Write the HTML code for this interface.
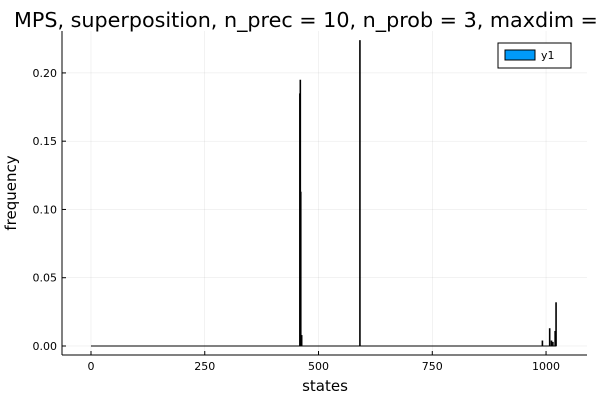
<!DOCTYPE html>
<html><head><meta charset="utf-8"><style>
html,body{margin:0;padding:0;background:#fff;width:600px;height:400px;overflow:hidden}
svg{display:block;font-family:"DejaVu Sans","Liberation Sans",sans-serif}
</style></head><body>
<svg id="chart" width="600" height="400">
<text x="14" y="27" font-size="20.7" fill="#000">MPS, superposition, n_prec = 10, n_prob = 3, maxdim = 10</text>
<g id="grid"></g>
<g id="bars"></g>
<g id="axes"></g>
<text x="325" y="391" font-size="15" text-anchor="middle">states</text>
<text transform="translate(16,193) rotate(-90)" font-size="15" text-anchor="middle">frequency</text>
<g>
<rect x="498" y="43" width="73" height="25" fill="#fff" stroke="#000" stroke-width="1"/>
<rect x="505" y="50" width="30" height="10" fill="#009af9" stroke="#000" stroke-width="1"/>
<text x="541" y="59" font-size="11">y1</text>
</g>
</svg>
<script>
const states = [459, 460, 461, 463, 591, 992, 1008, 1012, 1015, 1020, 1022];
const freqs = [0.185, 0.195, 0.113, 0.008, 0.224, 0.004, 0.013, 0.004, 0.003, 0.011, 0.032];
const xTicks = [0, 250, 500, 750, 1000];
const yTicks = [0, 0.05, 0.10, 0.15, 0.20];
const yTickLabels = ["0.00", "0.05", "0.10", "0.15", "0.20"];
const xMin = -63.7, xMax = 1090, yMin = -0.0066, yMax = 0.2307;
const L = 62, R = 587, T = 31, B = 355;
const sx = v => L + (v - xMin) / (xMax - xMin) * (R - L);
const sy = v => B - (v - yMin) / (yMax - yMin) * (B - T);
const NS = "http://www.w3.org/2000/svg";
function mk(tag, attrs, parent) {
  const e = document.createElementNS(NS, tag);
  for (const k in attrs) e.setAttribute(k, attrs[k]);
  parent.appendChild(e);
  return e;
}
const grid = document.getElementById("grid"), bars = document.getElementById("bars"), axes = document.getElementById("axes");
xTicks.forEach(t => {
  const g = mk("line", {x1: sx(t), x2: sx(t), y1: T, y2: B, stroke: "#000", "stroke-opacity": 0.1, "stroke-width": 0.5}, grid);
  
  
  const tk = mk("line", {x1: sx(t), x2: sx(t), y1: B, y2: B - 4, stroke: "#000", "stroke-width": 1}, axes);
  
  
  const lb = mk("text", {x: sx(t), y: B + 15, "font-size": 11, "text-anchor": "middle"}, axes);
  lb.textContent = t;
  
  
});
yTicks.forEach((t, i) => {
  const g = mk("line", {x1: L, x2: R, y1: sy(t), y2: sy(t), stroke: "#000", "stroke-opacity": 0.1, "stroke-width": 0.5}, grid);
  
  
  const tk = mk("line", {x1: L, x2: L + 4, y1: sy(t), y2: sy(t), stroke: "#000", "stroke-width": 1}, axes);
  
  
  const lb = mk("text", {x: L - 5, y: sy(t) + 4, "font-size": 11, "text-anchor": "end"}, axes);
  lb.textContent = yTickLabels[i];
  
  
});
const base = mk("line", {x1: sx(0), x2: sx(1023), y1: sy(0), y2: sy(0), stroke: "#000", "stroke-width": 1}, bars);


states.forEach((s, i) => {
  const b = mk("rect", {x: sx(s) - 0.8, y: sy(freqs[i]), width: 1.6, height: sy(0) - sy(freqs[i]), fill: "#000"}, bars);
  
  
});
const ax1 = mk("line", {x1: L, x2: L, y1: T, y2: B, stroke: "#000", "stroke-width": 1}, axes);


const ax2 = mk("line", {x1: L, x2: R, y1: B, y2: B, stroke: "#000", "stroke-width": 1}, axes);


</script>
</body></html>
